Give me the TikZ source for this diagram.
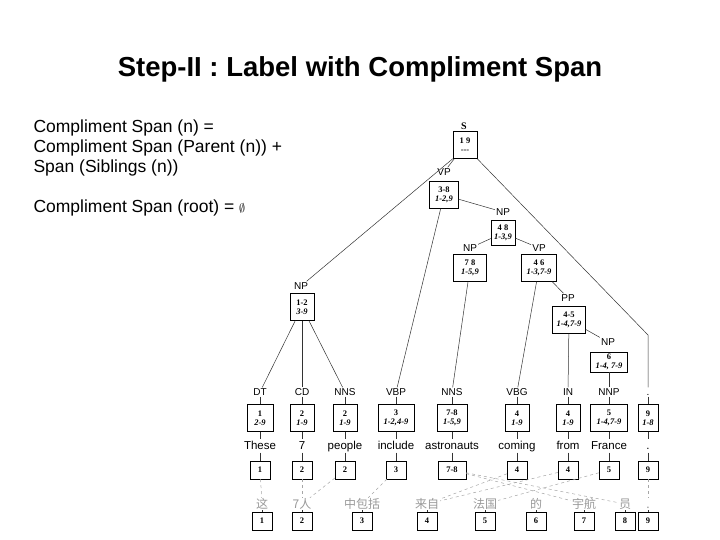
\documentclass[tikz,border=0pt]{standalone}
\usepackage{fontspec}
\setmainfont{Liberation Sans}
\newfontfamily\serf{Liberation Serif}
\newfontfamily\cjk{Noto Sans CJK SC}
\begin{document}
\begin{tikzpicture}[x=1pt,y=-1pt,
 lab/.style={font=\fontsize{10}{11}\selectfont,inner sep=1pt,text height=7pt,text depth=0pt},
 bx/.style={draw,font=\serf\fontsize{8.5}{9}\selectfont\bfseries,align=center,inner sep=1.5pt,minimum height=27,minimum width=24},
 nb/.style={draw,font=\serf\fontsize{8.5}{8.5}\selectfont\bfseries,minimum height=18,minimum width=20,inner sep=1pt},
 wd/.style={font=\fontsize{11.5}{12}\selectfont,inner sep=1pt,text height=8.5pt,text depth=2.5pt},
 zh/.style={font=\cjk\fontsize{12}{13}\selectfont,text=gray!80,inner sep=1pt,text height=9pt,text depth=1pt},
 ed/.style={gray!40!black,line width=0.5pt},
 al/.style={gray!70,dashed,line width=0.5pt}]
\useasboundingbox (0,0) rectangle (720,540);
\node[font=\fontsize{27.5}{30}\selectfont\bfseries] (title) at (360,69) {Step-II : Label with Compliment Span};
\node[anchor=west,align=left,font=\fontsize{17.5}{20}\selectfont] (def) at (30,148) {Compliment Span (n) =\\Compliment Span (Parent (n)) +\\Span (Siblings (n))};
\node[anchor=west,font=\fontsize{17.5}{20}\selectfont] (root) at (30,208) {Compliment Span (root) = {\fontsize{12}{12}\selectfont$\emptyset$}};
% internal nodes
\node[lab] (lS) at (464,126) {\serf\bfseries S};
\node[bx] (bS) at (465,145) {1 9\\---};
\node[lab] (lVP) at (444,172) {VP};
\node[bx,minimum width=29] (bVP) at (444,195) {3-8\\\textit{1-2,9}};
\node[lab] (lNP1) at (503,212) {NP};
\node[bx,minimum height=25] (bNP1) at (503,233) {4 8\\\textit{1-3,9}};
\node[lab] (lNP2) at (470,248) {NP};
\node[bx,minimum width=33] (bNP2) at (470,268) {7 8\\\textit{1-5,9}};
\node[lab] (lVP2) at (539,248) {VP};
\node[bx,minimum width=35] (bVP2) at (539,268) {4 6\\\textit{1-3,7-9}};
\node[lab] (lPP) at (568,298) {PP};
\node[bx,minimum width=33] (bPP) at (569,320) {4-5\\\textit{1-4,7-9}};
\node[lab] (lNP3) at (608,342) {NP};
\node[bx,minimum width=37,minimum height=20] (bNP3) at (609,362) {6\\\textit{1-4, 7-9}};
\node[lab] (lNP0) at (301,286) {NP};
\node[bx] (bNP0) at (302,307) {1-2\\\textit{3-9}};
% preterminals
\foreach \n/\x/\tg/\aa/\bb/\w/\ww/\nn/\nw in {
 1/260/DT/1/2-9/26/These/1/20,
 2/302/CD/2/1-9/24/7/2/20,
 3/345/NNS/2/1-9/24/people/2/20,
 4/396/VBP/3/{1-2,4-9}/36/include/3/20,
 5/452/NNS/7-8/{1-5,9}/30/astronauts/7-8/28,
 6/517/VBG/4/1-9/24/coming/4/20,
 7/568/IN/4/1-9/24/from/4/20,
 8/609/NNP/5/{1-4,7-9}/37/France/5/20,
 9/648/./9/1-8/20/./9/20}{
 \node[lab] (p\n) at (\x,392) {\tg};
 \node[bx,minimum width=\w] (pb\n) at (\x,418) {\aa\\\textit{\bb}};
 \node[wd] (w\n) at (\x,446) {\ww};
 \node[nb,minimum width=\nw] (n\n) at (\x,470) {\nn};
 \draw[ed] (p\n) -- (pb\n); \draw[ed] (pb\n) -- (w\n); \draw[ed] (w\n) -- (n\n);
}
% chinese
\foreach \n/\x/\tg in {1/262/这,2/302/7人,3/362/中包括,4/427/来自,5/485/法国,6/536/的,7/584/宇航,8/625/员,9/648/.}{
 \node[zh] (z\n) at (\x,504) {\tg};
 \node[nb] (c\n) at (\x,521) {\n};
 \draw[ed] (z\n) -- (c\n);
}
% tree edges
\draw[ed] (bS.south west) -- (lNP0);
\draw[ed] (bS) -- (lVP);
\draw[ed] (bS.south east) -- (648,335) -- (p9);
\draw[ed] (bVP) -- (lNP1);
\draw[ed] (bVP) -- (p4);
\draw[ed] (bNP1) -- (lNP2);
\draw[ed] (bNP1) -- (lVP2);
\draw[ed] (bNP2) -- (p5);
\draw[ed] (bVP2) -- (p6);
\draw[ed] (bVP2) -- (lPP);
\draw[ed] (bPP) -- (p7);
\draw[ed] (bPP) -- (lNP3);
\draw[ed] (bNP3) -- (p8);
\draw[ed] (bNP0) -- (p1);
\draw[ed] (bNP0) -- (p2);
\draw[ed] (bNP0) -- (p3);
% alignments
\draw[al] (n1) -- (z1);
\draw[al] (n2) -- (z2);
\draw[al] (n3) -- (z2);
\draw[al] (n4) -- (z3);
\draw[al] (n5) -- (z7);
\draw[al] (n5) -- (z8);
\draw[al] (n6) -- (z4);
\draw[al] (n7) -- (z4);
\draw[al] (n8) -- (z5);
\draw[al] (n9) -- (z9);
\end{tikzpicture}
\end{document}
